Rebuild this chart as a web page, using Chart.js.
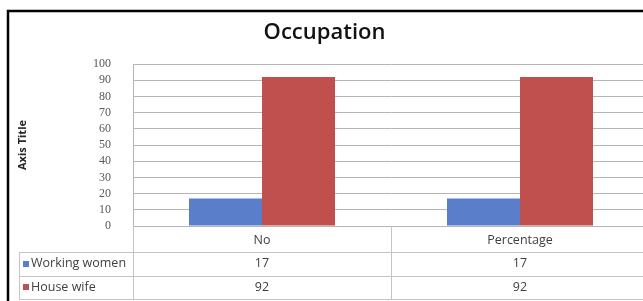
<!DOCTYPE html>
<html>
<head>
<meta charset="utf-8">
<script src="https://cdn.jsdelivr.net/npm/chart.js@4/dist/chart.umd.min.js"></script>
<style>
  html, body { margin: 0; padding: 0; background: #ffffff; overflow: hidden; width: 643px; height: 301px; }
  #wrap { position: absolute; left: 0; top: 0; width: 660px; height: 301px; }
</style>
</head>
<body>
<div id="wrap"><canvas id="c" width="660" height="301"></canvas></div>
<script>
const chartTitle = 'Occupation';
const axisTitle = 'Axis Title';
const categories = ['No', 'Percentage'];
const seriesNames = ['Working women', 'House wife'];
const workingWomen = [17, 17];
const houseWife = [92, 92];
const yTicks = [0, 10, 20, 30, 40, 50, 60, 70, 80, 90, 100];

const seriesColors = ['#5A7ECA', '#C0504D'];
const seriesData = [workingWomen, houseWife];

const tablePlugin = {
  id: 'dataTable',
  afterDraw(chart) {
    const ctx = chart.ctx;
    const ca = chart.chartArea;
    const xs = chart.scales.x;
    const lineCol = '#c4c4c4';
    const tableLeft = 19;
    const labelRowBottom = ca.bottom + 26;
    const rowH = 23.5;
    const rowsBottom = labelRowBottom + rowH * seriesNames.length;

    ctx.save();
    ctx.strokeStyle = lineCol;
    ctx.lineWidth = 1;
    ctx.beginPath();
    for (let r = 0; r <= seriesNames.length; r++) {
      const y = Math.round(labelRowBottom + r * rowH) + 0.5;
      ctx.moveTo(tableLeft, y);
      ctx.lineTo(ca.right, y);
    }
    ctx.moveTo(tableLeft + 0.5, labelRowBottom);
    ctx.lineTo(tableLeft + 0.5, rowsBottom);
    const n = categories.length;
    const bounds = [ca.left];
    for (let i = 0; i < n - 1; i++) {
      bounds.push((xs.getPixelForTick(i) + xs.getPixelForTick(i + 1)) / 2);
    }
    bounds.push(ca.right);
    bounds.forEach(b => {
      const x = Math.round(b) + 0.5;
      ctx.moveTo(x, ca.bottom);
      ctx.lineTo(x, rowsBottom);
    });
    ctx.stroke();

    ctx.fillStyle = '#404040';
    ctx.font = '12.5px "Open Sans"';
    ctx.textAlign = 'center';
    ctx.textBaseline = 'middle';
    categories.forEach((c, i) => {
      ctx.fillText(c, xs.getPixelForTick(i), (ca.bottom + labelRowBottom) / 2 + 1);
    });
    seriesNames.forEach((name, r) => {
      const cy = labelRowBottom + r * rowH + rowH / 2;
      ctx.fillStyle = seriesColors[r];
      ctx.fillRect(tableLeft + 4, Math.round(cy - 3), 6, 6);
      ctx.fillStyle = '#404040';
      ctx.textAlign = 'left';
      ctx.fillText(name, tableLeft + 12, cy);
      ctx.textAlign = 'center';
      seriesData[r].forEach((v, i) => {
        ctx.fillText(String(v), xs.getPixelForTick(i), cy);
      });
    });

    ctx.strokeStyle = '#000000';
    ctx.lineWidth = 2.5;
    ctx.beginPath();
    ctx.moveTo(8, chart.height + 5);
    ctx.lineTo(8, 11);
    ctx.lineTo(chart.width + 5, 11);
    ctx.stroke();
    ctx.restore();
  }
};

new Chart(document.getElementById('c'), {
  type: 'bar',
  data: {
    labels: categories,
    datasets: [
      { label: seriesNames[0], data: workingWomen, backgroundColor: seriesColors[0], borderWidth: 0 },
      { label: seriesNames[1], data: houseWife, backgroundColor: seriesColors[1], borderWidth: 0 }
    ]
  },
  options: {
    responsive: false,
    animation: false,
    devicePixelRatio: 1,
    layout: { padding: { top: 10, left: 0, right: 11, bottom: 75 } },
    datasets: { bar: { categoryPercentage: 0.566, barPercentage: 1.0 } },
    plugins: {
      legend: { display: false },
      tooltip: { enabled: false },
      title: {
        display: true,
        text: chartTitle,
        color: '#111111',
        font: { family: 'Open Sans', size: 22, weight: '600' },
        padding: { top: 10, bottom: 17.6 }
      }
    },
    scales: {
      x: { display: false },
      y: {
        min: 0,
        max: 100,
        afterFit(scale) { scale.width = 133; },
        afterBuildTicks(scale) { scale.ticks = yTicks.map(v => ({ value: v })); },
        grid: { color: '#b5b5b5', drawTicks: false, lineWidth: 1 },
        border: { display: true, color: '#b5b5b5' },
        ticks: {
          autoSkip: false,
          padding: 22,
          color: '#595959',
          font: { family: 'Liberation Serif', size: 12 }
        },
        title: {
          display: true,
          text: axisTitle,
          color: '#262626',
          font: { family: 'Open Sans', size: 11, weight: 'bold' },
          padding: { top: 16, bottom: 0 }
        }
      }
    }
  },
  plugins: [tablePlugin]
});
</script>
</body>
</html>
